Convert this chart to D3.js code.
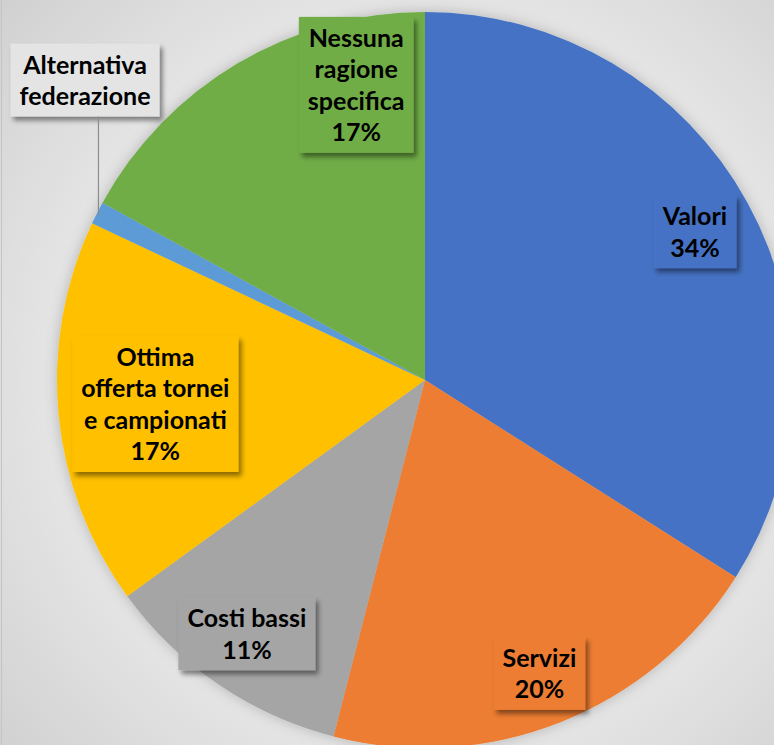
<!DOCTYPE html>
<html>
<head>
<meta charset="utf-8">
<script src="https://cdn.jsdelivr.net/npm/d3@7"></script>
<style>
  html, body { margin: 0; padding: 0; background: #dadada; }
  svg { display: block; }
</style>
</head>
<body>
<svg id="chart" width="774" height="745"></svg>
<script>
// Motivi di scelta della federazione (percentuali)
const categories = [
  "Valori",
  "Servizi",
  "Costi bassi",
  "Ottima offerta tornei e campionati",
  "Alternativa federazione",
  "Nessuna ragione specifica"
];
const values = [34, 20, 11, 17, 1, 17];
// Label text lines per slice; the percentage line is appended when shown
const labelLines = [
  ["Valori"],
  ["Servizi"],
  ["Costi bassi"],
  ["Ottima", "offerta tornei", "e campionati"],
  ["Alternativa", "federazione"],
  ["Nessuna", "ragione", "specifica"]
];
const showPercent = [true, true, true, true, false, true];
const colors = ["#4472C4", "#ED7D31", "#A5A5A5", "#FFC000", "#5B9BD5", "#70AD47"];

const width = 774, height = 745;
const cx = 425, cy = 380, radius = 368;
const labelRadius = 308;
// Label nudges (px) from the centroid position, per slice
const labelNudge = [[0, 0], [1, 7], [-5, -1], [37, -5], [0, 0], [88, -30]];
// Callout label for the thin slice, placed outside with a leader line
const calloutCenter = [85, 80];

const svg = d3.select("#chart");
const defs = svg.append("defs");

const bg = defs.append("radialGradient").attr("id", "bgGrad")
  .attr("gradientUnits", "userSpaceOnUse")
  .attr("cx", cx).attr("cy", cy).attr("r", 600);
bg.append("stop").attr("offset", "0.6").attr("stop-color", "#e6e6e6");
bg.append("stop").attr("offset", "1").attr("stop-color", "#cdcdcd");

const pieShadow = defs.append("filter").attr("id", "pieShadow")
  .attr("x", "-20%").attr("y", "-20%").attr("width", "140%").attr("height", "140%");
pieShadow.append("feDropShadow").attr("dx", 0).attr("dy", 0)
  .attr("stdDeviation", 7).attr("flood-color", "#000").attr("flood-opacity", 0.22);

const boxShadow = defs.append("filter").attr("id", "boxShadow")
  .attr("x", "-20%").attr("y", "-20%").attr("width", "150%").attr("height", "150%");
boxShadow.append("feDropShadow").attr("dx", 3).attr("dy", 4)
  .attr("stdDeviation", 2.5).attr("flood-color", "#000").attr("flood-opacity", 0.45);

svg.append("rect").attr("width", width).attr("height", height).attr("fill", "url(#bgGrad)");
svg.append("line").attr("x1", 1.5).attr("x2", 1.5).attr("y1", 0).attr("y2", height)
  .attr("stroke", "#c4c4c4").attr("stroke-width", 1);

const pie = d3.pie().sort(null).value(d => d)
  .startAngle(0).endAngle(2 * Math.PI);
const arcs = pie(values);
const arc = d3.arc().innerRadius(0).outerRadius(radius);
const labelArc = d3.arc().innerRadius(labelRadius).outerRadius(labelRadius);
const edgeArc = d3.arc().innerRadius(radius - 6).outerRadius(radius - 6);

const g = svg.append("g").attr("transform", `translate(${cx},${cy})`);

g.append("g").attr("filter", "url(#pieShadow)")
  .selectAll("path").data(arcs).join("path")
  .attr("d", arc)
  .attr("fill", (d, i) => colors[i]);

const fontSize = 25, lineH = 31.5, padX = 9, padY = 5;

arcs.forEach((d, i) => {
  const lines = labelLines[i].slice();
  if (showPercent[i]) lines.push(d.data + "%");
  let x, y, fill;
  if (i === 4) {
    x = calloutCenter[0] - cx; y = calloutCenter[1] - cy; fill = "#e4e4e4";
  } else {
    const c = labelArc.centroid(d);
    x = c[0] + labelNudge[i][0]; y = c[1] + labelNudge[i][1]; fill = colors[i];
  }
  const lg = g.append("g").attr("transform", `translate(${x},${y})`);
  const box = lg.append("rect").attr("fill", fill).attr("filter", "url(#boxShadow)");
  const h = lines.length * lineH + padY * 2;
  const text = lg.append("text")
    .attr("text-anchor", "middle")
    .attr("font-family", "Lato, 'Open Sans', sans-serif")
    .attr("font-weight", "bold")
    .attr("font-size", fontSize)
    .attr("fill", "#000");
  lines.forEach((t, k) => {
    text.append("tspan").attr("x", 0)
      .attr("y", -h / 2 + padY + 25 + k * lineH).text(t);
  });
  const w = text.node().getBBox().width + padX * 2;
  box.attr("x", -w / 2).attr("y", -h / 2).attr("width", w).attr("height", h);

  if (i === 4) {
    // leader line from the callout box down to the slice edge
    const edge = edgeArc.centroid(d);
    g.append("line")
      .attr("x1", edge[0] - 4).attr("x2", edge[0] - 4)
      .attr("y1", y + h / 2).attr("y2", edge[1])
      .attr("stroke", "#8c8c8c").attr("stroke-width", 1.2);
  }
});
</script>
</body>
</html>
